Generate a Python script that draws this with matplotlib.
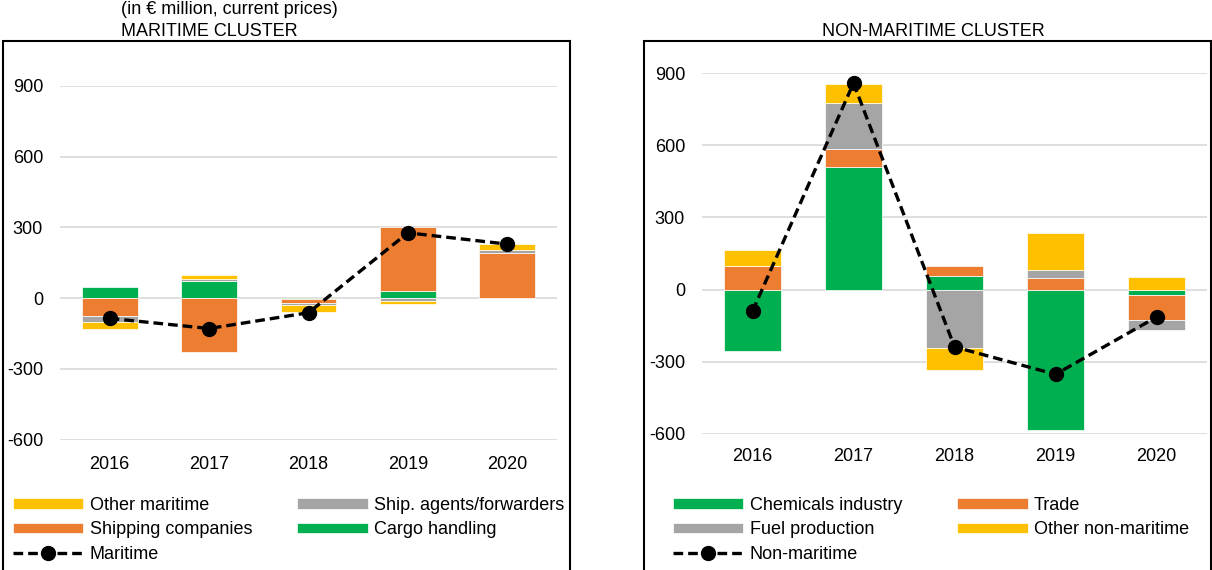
import matplotlib
matplotlib.use("Agg")
import matplotlib.pyplot as plt
from matplotlib.patches import Rectangle
import numpy as np

plt.rcParams["font.family"] = ["Liberation Sans", "DejaVu Sans"]

# data (in EUR million, current prices)
years = ["2016", "2017", "2018", "2019", "2020"]

cargo_handling = [46, 74, -5, 31, 2]
shipping_companies = [-77, -230, -16, 269, 191]
ship_agents = [-23, 9, -9, -13, 10]
other_maritime = [-31, 17, -30, -10, 28]
maritime_total = [-86, -129, -62, 277, 229]

chemicals_industry = [-257, 508, 57, -583, -21]
trade = [97, 75, 40, 50, -106]
fuel_production = [0, 194, -242, 31, -40]
other_non_maritime = [69, 79, -90, 153, 54]
non_maritime_total = [-90, 858, -238, -352, -114]

yticks = [-600, -300, 0, 300, 600, 900]

GREEN = "#00B050"
ORANGE = "#ED7D31"
GRAY = "#A5A5A5"
YELLOW = "#FFC000"

W, H = 1212, 570
FS = 13


def fx(px):
    return px / W


def fy(py):
    return 1 - py / H


def stacked(ax, series, total, total_label):
    x = np.arange(len(years))
    pos = np.zeros(len(years))
    neg = np.zeros(len(years))
    handles = {}
    for label, vals, color in series:
        vals = np.array(vals, dtype=float)
        bottom = np.where(vals >= 0, pos, neg)
        bars = ax.bar(x, vals, 0.56, bottom=bottom, color=color,
                      edgecolor="white", linewidth=0.5, zorder=2)
        pos = pos + np.where(vals >= 0, vals, 0)
        neg = neg + np.where(vals < 0, vals, 0)
        handles[label] = bars
    line, = ax.plot(x, total, color="black", linestyle=(0, (2.9, 1.5)),
                    linewidth=2.4, marker="o", markersize=10, zorder=3,
                    label=total_label)
    handles[total_label] = line
    ax.set_xlim(-0.5, len(years) - 0.5)
    ax.set_ylim(-600, 900)
    ax.set_yticks(yticks)
    ax.set_yticklabels([str(t) for t in yticks], fontsize=FS)
    ax.set_xticks(x)
    ax.set_xticklabels(years, fontsize=FS)
    ax.tick_params(length=0)
    ax.tick_params(axis="y", pad=12.2)
    ax.grid(axis="y", color="#D9D9D9", linewidth=1.2, zorder=0)
    ax.set_axisbelow(True)
    for s in ax.spines.values():
        s.set_visible(False)
    return handles


fig = plt.figure(figsize=(W / 100, H / 100), dpi=100)

# panel frames
fig.patches.append(Rectangle((fx(3), fy(575)), fx(567), fy(41) - fy(575),
                             transform=fig.transFigure, fill=False,
                             edgecolor="black", linewidth=1.5))
fig.patches.append(Rectangle((fx(644), fy(575)), fx(567), fy(41) - fy(575),
                             transform=fig.transFigure, fill=False,
                             edgecolor="black", linewidth=1.5))

ax1 = fig.add_axes([fx(60), fy(439.5), fx(497), fy(86) - fy(439.5)])
ax2 = fig.add_axes([fx(702), fy(434), fx(505), fy(73) - fy(434)])

h1 = stacked(ax1, [("Cargo handling", cargo_handling, GREEN),
                   ("Shipping companies", shipping_companies, ORANGE),
                   ("Ship. agents/forwarders", ship_agents, GRAY),
                   ("Other maritime", other_maritime, YELLOW)],
             maritime_total, "Maritime")
h2 = stacked(ax2, [("Chemicals industry", chemicals_industry, GREEN),
                   ("Trade", trade, ORANGE),
                   ("Fuel production", fuel_production, GRAY),
                   ("Other non-maritime", other_non_maritime, YELLOW)],
             non_maritime_total, "Non-maritime")

ax1.tick_params(axis="x", pad=12)
ax2.tick_params(axis="x", pad=10)

fig.text(fx(121), fy(10), "(in \u20ac million, current prices)",
         fontsize=FS, va="center", ha="left")
fig.text(fx(121), fy(31), "MARITIME CLUSTER", fontsize=FS, va="center",
         ha="left")
fig.text(fx(933), fy(31), "NON-MARITIME CLUSTER", fontsize=FS,
         va="center", ha="center")

leg_kw = dict(ncol=2, frameon=False, fontsize=FS, handlelength=3.9,
              handleheight=0.5, handletextpad=0.35, labelspacing=0.41,
              borderaxespad=0, borderpad=0)

order1 = ["Other maritime", "Shipping companies", "Maritime",
          "Ship. agents/forwarders", "Cargo handling"]
fig.legend([h1[k] for k in order1], order1, loc="upper left",
           bbox_to_anchor=(fx(13), fy(497)), columnspacing=2.5, **leg_kw)

order2 = ["Chemicals industry", "Fuel production", "Non-maritime",
          "Trade", "Other non-maritime"]
fig.legend([h2[k] for k in order2], order2, loc="upper left",
           bbox_to_anchor=(fx(673), fy(497)), columnspacing=3.05, **leg_kw)

fig.savefig("out.png", dpi=100)
